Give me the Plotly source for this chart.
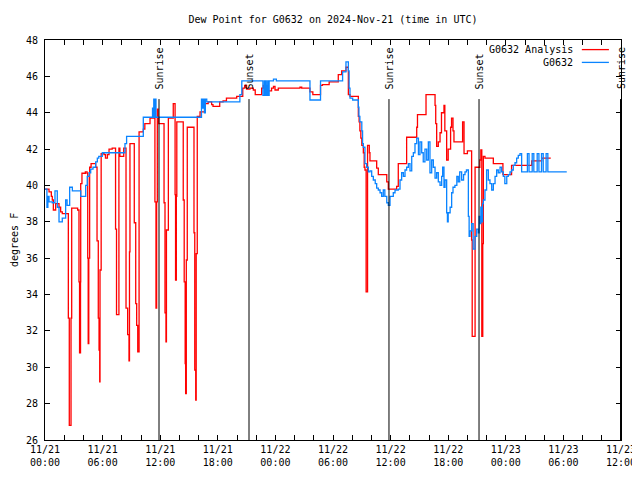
import plotly.graph_objects as go
import pandas as pd

BASE = pd.Timestamp("2024-11-21 00:00")

# G0632 Analysis (red) - hours since 2024-11-21 00:00 UTC, dew point in F
analysis_hours = [0.0, 0.42, 0.66, 0.76, 0.87, 1.11, 1.46, 1.63, 1.8,
                  2.43, 2.53, 2.71, 2.78, 3.4, 3.54, 3.6, 3.7, 3.72, 3.85, 4.2, 4.38,
                  4.45, 4.5, 4.56, 4.65, 4.8, 5.28, 5.42, 5.55, 5.63, 5.7, 5.73, 5.85,
                  6.15, 6.3, 6.5, 6.67, 7.0, 7.35, 7.45, 7.7, 7.8, 8.2, 8.44, 8.61, 8.75,
                  8.8, 8.85, 9.3, 9.45, 9.55, 9.66, 9.8, 10.24, 10.4, 10.94, 11.45, 11.56,
                  11.63, 11.7, 11.78, 11.85, 12.4, 12.5, 12.6, 12.65, 12.85, 13.36, 13.55,
                  13.6, 13.68, 13.73, 14.4, 14.5, 14.6, 14.65, 14.72, 14.82, 15.52, 15.6,
                  15.7, 15.75, 15.86, 16.15, 16.67, 17.0, 17.36, 17.5, 18.2, 18.55, 18.9,
                  19.97, 20.6, 20.8, 21.0, 21.35, 21.7, 21.9, 22.57, 22.74, 22.9, 23.26,
                  23.6, 23.8, 23.96, 24.3, 26.56, 26.74, 27.6, 27.9, 28.7, 28.9, 29.6,
                  30.55, 30.9, 31.35, 31.6, 31.77, 32.64, 32.72, 32.8, 32.9, 33.0, 33.16,
                  33.25, 33.33, 33.45, 33.6, 33.78, 33.85, 34.55, 34.72, 35.6, 35.76,
                  36.63, 36.8, 37.67, 38.72, 38.8, 39.69, 40.63, 40.7, 40.8, 40.97, 41.15,
                  41.3, 41.56, 41.65, 41.84, 42.0, 42.25, 42.35, 42.5, 42.6, 43.5, 43.65,
                  44.0, 44.44, 44.5, 44.8, 45.3, 45.4, 45.5, 45.6, 45.66, 45.83, 46.7,
                  47.7, 48.6, 50.7, 51.74, 52.68]
analysis_values = [39.8, 39.65, 39.4, 39.2, 38.65, 39.0, 38.8, 38.55, 38.45,
                   32.7, 26.8, 32.7, 38.75, 38.65, 34.7, 30.8, 34.7, 40.1, 40.67, 40.75, 40.67,
                   36.0, 31.3, 36.0, 41.0, 41.2, 41.0, 36.95, 32.7, 30.95, 29.2, 35.35, 41.75,
                   41.7, 41.5, 41.7, 42.0, 42.05, 37.6, 32.9, 42.05, 41.6, 42.05, 33.25, 31.8, 30.35,
                   36.35, 42.3, 37.95, 33.5, 32.3, 30.85, 42.95, 43.1, 43.4, 43.7, 39.1, 33.25,
                   39.1, 44.2, 43.7, 43.4, 39.05, 33.0, 31.4, 37.55, 43.7, 44.5, 39.5,
                   34.8, 39.4, 43.5, 39.2, 34.7, 30.2, 28.55, 35.9, 43.2, 37.4, 29.85,
                   28.2, 36.25, 43.8, 44.05, 44.5, 44.6, 44.45, 44.35, 44.6, 44.65, 44.8,
                   44.9, 45.35, 45.5, 45.3, 45.35, 45.25, 45.0, 45.35, 45.5, 45.15, 45.2,
                   45.35, 45.45, 45.25, 45.35, 45.4, 45.35, 45.15, 45.0, 45.5, 45.55, 45.7,
                   46.1, 46.3, 46.5, 45.0, 44.9, 43.8, 43.5, 43.0, 42.6, 42.2, 41.8,
                   41.0, 40.85, 34.15, 42.2, 41.8, 41.35, 40.95, 40.6, 40.2, 39.8,
                   39.95, 41.2, 42.65, 43.2, 43.9, 45.0, 44.4, 43.4, 42.15, 42.4, 42.9,
                   44.0, 44.4, 43.0, 41.4, 42.0, 43.2, 43.7, 43.0, 42.4, 43.5, 41.75,
                   41.9, 37.0, 31.7, 41.0, 41.4, 41.95, 31.7, 36.8, 41.6, 41.5, 41.2,
                   40.6, 41.1, 41.35, 41.5, 41.5]

# G0632 observations (blue)
obs_hours = [0.0, 0.2, 0.3, 0.42, 0.76, 1.04, 1.28, 1.46, 1.8, 2.15, 2.3, 2.57, 2.85,
             3.72, 4.24, 4.4, 4.6, 4.76, 5.0, 5.28, 5.45, 5.6, 5.97, 8.33, 8.5, 10.24,
             11.2, 11.27, 11.33, 11.45, 11.5, 11.56, 16.3, 16.4, 16.5, 16.6, 16.7, 16.85,
             20.3, 20.5, 22.7, 22.85, 22.9, 23.0, 23.05, 23.1, 23.15, 23.2, 23.25, 23.35,
             23.8, 24.1, 27.6, 28.7, 31.0, 31.35, 31.6, 31.68, 31.77, 32.05, 32.64, 32.7,
             32.8, 33.0, 33.08, 33.16, 33.33, 33.5, 33.68, 33.85, 34.03, 34.2, 34.4, 34.55,
             34.72, 34.9, 35.07, 35.24, 35.4, 35.6, 35.76, 35.94, 36.28, 36.46, 36.8, 36.98,
             37.15, 37.33, 37.5, 37.67, 37.85, 38.02, 38.2, 38.37, 38.54, 38.72, 38.9, 39.06,
             39.24, 39.4, 39.58, 39.76, 39.93, 40.1, 40.28, 40.45, 40.63, 40.8, 40.97, 41.15,
             41.32, 41.42, 41.56, 41.67, 41.84, 41.92, 42.0, 42.2, 42.36, 42.5, 42.7, 42.9,
             43.05, 43.2, 43.4, 43.6, 43.75, 43.9, 44.1, 44.18, 44.27, 44.44, 44.6, 44.8,
             44.97, 45.14, 45.22, 45.3, 45.4, 45.5, 45.58, 45.66, 45.83, 46.0, 46.18, 46.35,
             46.53, 46.7, 46.88, 47.05, 47.22, 47.4, 47.57, 47.74, 47.9, 48.1, 48.26, 48.44,
             48.6, 48.78, 48.96, 49.13, 49.3, 49.48, 49.65, 50.25, 50.42, 50.75, 50.92,
             51.27, 51.45, 51.72, 51.9, 52.2, 52.38, 54.35]
obs_values = [39.8, 38.8, 39.4, 39.1, 39.05, 39.7, 38.8, 38.0, 38.2, 39.2, 38.9, 39.9, 39.7,
              39.4, 40.0, 40.5, 40.7, 40.9, 41.0, 41.3, 41.5, 41.6, 41.8, 42.3, 42.7, 43.75,
              44.25, 43.75, 44.75, 43.75, 44.75, 43.75, 44.75, 44.25, 44.75, 44.0, 44.75, 44.6,
              45.0, 45.75, 44.95, 45.75, 44.95, 45.75, 44.95, 45.5, 44.95, 45.75, 44.95, 45.75,
              45.85, 45.75, 44.7, 45.75, 46.25, 46.8, 46.3, 45.35, 44.8, 44.7, 44.3, 43.8,
              43.5, 43.0, 42.3, 42.1, 41.2, 41.0, 40.75, 40.8, 40.5, 40.3, 40.1, 39.85,
              39.75, 39.6, 39.4, 39.75, 39.4, 39.05, 38.9, 39.4, 39.6, 39.75, 39.8, 40.3,
              40.7, 40.5, 40.85, 41.0, 41.2, 40.8, 41.6, 41.8, 42.3, 42.6, 41.7, 42.4,
              41.8, 41.3, 42.0, 41.4, 42.4, 40.7, 41.4, 41.0, 40.4, 40.7, 40.2, 40.0,
              40.5, 41.0, 39.9, 40.3, 38.5, 38.0, 38.5, 38.8, 39.6, 39.9, 40.0, 40.5,
              40.2, 40.75, 40.3, 40.6, 40.75, 40.85, 38.3, 37.2, 37.5, 37.9, 36.5, 37.2,
              37.6, 37.4, 38.3, 37.9, 38.8, 38.0, 39.0, 39.2, 39.75, 40.85, 40.3, 40.1,
              39.75, 40.1, 40.5, 40.85, 40.7, 41.0, 40.75, 40.5, 40.1, 40.5, 40.6, 40.75,
              40.85, 41.1, 41.25, 41.5, 41.65, 41.75, 40.75, 41.75, 40.75, 41.75, 40.75,
              41.75, 40.75, 41.75, 40.75, 41.75, 40.75, 40.75]

event_names = ["Sunrise", "Sunset", "Sunrise", "Sunset", "Sunrise"]
event_hours = [11.875, 21.25, 35.83, 45.21, 59.95]

series_names = ["G0632 Analysis", "G0632"]
series_colors = ["#ff0000", "#0a84ff"]


def to_time(hours):
    return [BASE + pd.Timedelta(hours=h) for h in hours]


fig = go.Figure()
fig.add_trace(go.Scatter(x=to_time(analysis_hours), y=analysis_values, mode="lines",
                         name=series_names[0],
                         line=dict(color=series_colors[0], width=1.3, shape="hv")))
fig.add_trace(go.Scatter(x=to_time(obs_hours), y=obs_values, mode="lines",
                         name=series_names[1],
                         line=dict(color=series_colors[1], width=1.3, shape="hv")))

FONT = "DejaVu Sans Mono"

# Sunrise / sunset markers
for name, h in zip(event_names, event_hours):
    t = BASE + pd.Timedelta(hours=h)
    fig.add_shape(type="line", xref="x", yref="y", x0=t, x1=t, y0=26, y1=44.75,
                  line=dict(color="black", width=1))
    fig.add_annotation(x=t, xref="x", y=0.871, yref="paper", text=name, showarrow=False,
                       textangle=-90, xanchor="center", yanchor="bottom", xshift=1,
                       font=dict(family=FONT, size=10, color="black"))

# gnuplot-style legend (text followed by line sample)
legend_y = [0.976, 0.944]
for name, color, ly in zip(series_names, series_colors, legend_y):
    fig.add_annotation(x=0.920, xref="paper", y=ly, yref="paper", text=name,
                       showarrow=False, xanchor="right", yanchor="middle",
                       font=dict(family=FONT, size=10, color="black"))
    fig.add_shape(type="line", xref="paper", yref="paper", x0=0.932, x1=0.979,
                  y0=ly, y1=ly, line=dict(color=color, width=1.3))

# y-axis title
fig.add_annotation(x=-0.0538, xref="paper", y=0.5, yref="paper", text="degrees F",
                   showarrow=False, textangle=-90, xanchor="center", yanchor="middle",
                   font=dict(family=FONT, size=10, color="black"))

# the page body adds an 8 px offset; figure size/margins compensate for it
fig.update_layout(
    width=632, height=472,
    margin=dict(l=37, r=19, t=32, b=40, autoexpand=False),
    paper_bgcolor="white", plot_bgcolor="white",
    font=dict(family=FONT, size=10, color="black"),
    showlegend=False,
    title=dict(text="Dew Point for G0632 on 2024-Nov-21 (time in UTC)", x=0.5, xref="paper",
               xanchor="center", y=1 - 11 / 472, yanchor="middle",
               font=dict(family=FONT, size=10, color="black")),
    xaxis=dict(type="date", automargin=False,
               range=[BASE, BASE + pd.Timedelta(hours=60)],
               tick0=BASE, dtick=6 * 3600 * 1000, tickformat="%m/%d<br>%H:%M",
               ticks="inside", ticklen=5, tickcolor="black",
               minor=dict(dtick=2 * 3600 * 1000, ticks="inside", ticklen=5,
                          tickcolor="black", showgrid=False),
               showline=True, linecolor="black", linewidth=1, mirror="ticks",
               showgrid=False, zeroline=False),
    yaxis=dict(range=[26, 48], dtick=2, ticks="inside", ticklen=5, tickcolor="black",
               automargin=False,
               showline=True, linecolor="black", linewidth=1, mirror="ticks",
               showgrid=False, zeroline=False, ticklabelstandoff=4),
)

fig.write_html("out.html")
